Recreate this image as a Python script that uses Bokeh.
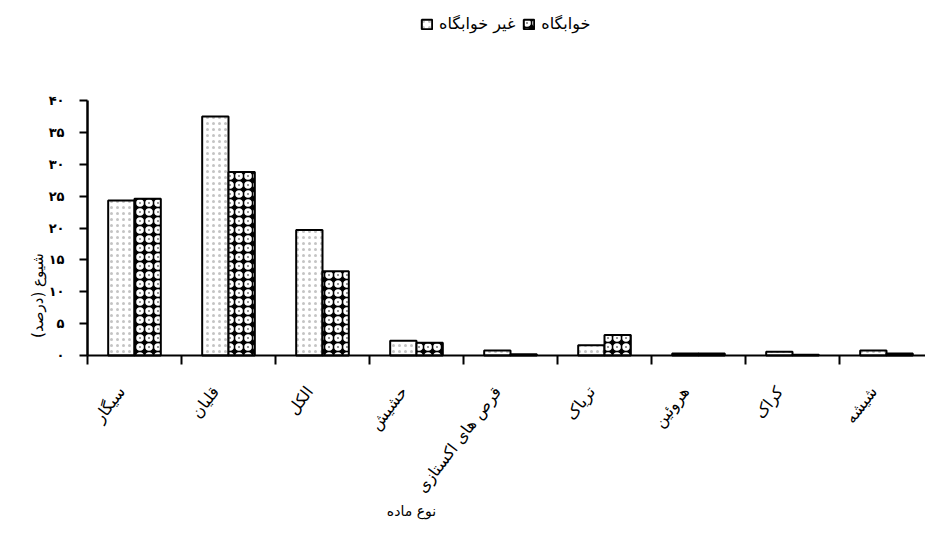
import numpy as np
from bokeh.plotting import figure
from bokeh.models import (Range1d, FixedTicker, Legend, LegendItem, Label,
                          ColumnDataSource, LinearAxis)
from bokeh.core.properties import value
from bokeh.embed import file_html
from bokeh.resources import INLINE

categories = ["سیگار", "قلیان", "الکل", "حشیش", "قرص های اکستازی",
              "تریاک", "هروئین", "کراک", "شیشه"]
series_light_name = "غیر خوابگاه"
series_dark_name = "خوابگاه"
values_light = [24.3, 37.5, 19.7, 2.3, 0.8, 1.6, 0.3, 0.6, 0.8]
values_dark = [24.6, 28.8, 13.2, 2.0, 0.2, 3.2, 0.3, 0.1, 0.3]
y_ticks = [0, 5, 10, 15, 20, 25, 30, 35, 40]
fa_digits = str.maketrans("0123456789", "۰۱۲۳۴۵۶۷۸۹")
y_tick_labels = [str(t).translate(fa_digits) for t in y_ticks]
y_label = "شیوع (درصد)"
x_label = "نوع ماده"

FONT = "DejaVu Sans"

centers = np.arange(len(categories)) + 0.5
bw = 0.28
px_x = 94.0     # pixels per category
px_y = 6.375    # pixels per percent

src = ColumnDataSource(dict(
    xl=centers - bw / 2, xd=centers + bw / 2,
    light=values_light, dark=values_dark))
lab_src = ColumnDataSource(dict(
    x=centers - 13 / px_x, y=np.full(len(categories), -33 / px_y),
    text=categories))

# frame covers the whole canvas; axes are drawn at fixed data locations
p = figure(width=925, height=521, output_backend="svg", toolbar_location=None,
           x_range=Range1d(-87 / px_x, 838 / px_x),
           y_range=Range1d(-166 / px_y, 355 / px_y),
           x_axis_location=None, y_axis_location=None, min_border=0)
p.outline_line_color = None
p.xgrid.visible = False
p.ygrid.visible = False

r_light = p.vbar(x="xl", top="light", width=bw, source=src,
                 fill_color="white", line_color="black", line_width=2,
                 hatch_pattern="dot", hatch_color="#c4c4c4", hatch_scale=6,
                 hatch_weight=1)
r_dark = p.vbar(x="xd", top="dark", width=bw, source=src,
                fill_color="black", line_color="black", line_width=2,
                hatch_pattern="ring", hatch_color="white", hatch_scale=9,
                hatch_weight=3)

# x axis at y = 0 (boundary ticks only; labels drawn as rotated text)
xa = LinearAxis(fixed_location=0, bounds=(0, 10))
xa.ticker = FixedTicker(ticks=[], minor_ticks=list(range(len(categories))))
xa.major_tick_out = 0
xa.major_tick_in = 0
xa.minor_tick_out = 9
xa.minor_tick_in = 0
xa.minor_tick_line_width = 2
xa.minor_tick_line_color = "black"
xa.axis_line_width = 2
p.add_layout(xa, "below")

p.text(x="x", y="y", text="text", source=lab_src, angle=0.92,
       text_align="right", text_baseline="middle",
       text_font=value(FONT), text_font_size="16px", text_color="black")

# y axis at x = 0
ya = LinearAxis(fixed_location=0, bounds=(0, 40))
ya.ticker = FixedTicker(ticks=y_ticks)
ya.major_label_overrides = {t: l for t, l in zip(y_ticks, y_tick_labels)}
ya.minor_tick_line_color = None
ya.major_tick_out = 8
ya.major_tick_in = 0
ya.major_tick_line_width = 2
ya.axis_line_width = 2.5
ya.major_label_standoff = 15
ya.major_label_text_font = FONT
ya.major_label_text_font_size = "13px"
ya.major_label_text_font_style = "bold"
ya.major_label_text_color = "black"
p.add_layout(ya, "left")

p.add_layout(Label(x=(419 - 95) / px_x, y=-(518 - 363) / px_y, text=x_label,
                   text_align="center", text_baseline="middle",
                   text_font=FONT, text_font_size="14px", text_color="black"))
p.add_layout(Label(x=(45 - 95) / px_x, y=(363 - 303) / px_y, text=y_label,
                   angle=np.pi / 2, text_align="center",
                   text_baseline="middle", text_font=FONT,
                   text_font_size="15px", text_color="black"))

legend = Legend(items=[LegendItem(label=series_light_name, renderers=[r_light]),
                       LegendItem(label=series_dark_name, renderers=[r_dark])],
                orientation="horizontal", location=(420, 488),
                padding=0, margin=0, spacing=7, label_standoff=6,
                glyph_width=13, glyph_height=12,
                border_line_color=None, background_fill_alpha=0,
                label_text_font=FONT, label_text_font_size="16px",
                label_text_color="black")
p.add_layout(legend)

open("out.html", "w").write(file_html(p, INLINE))
